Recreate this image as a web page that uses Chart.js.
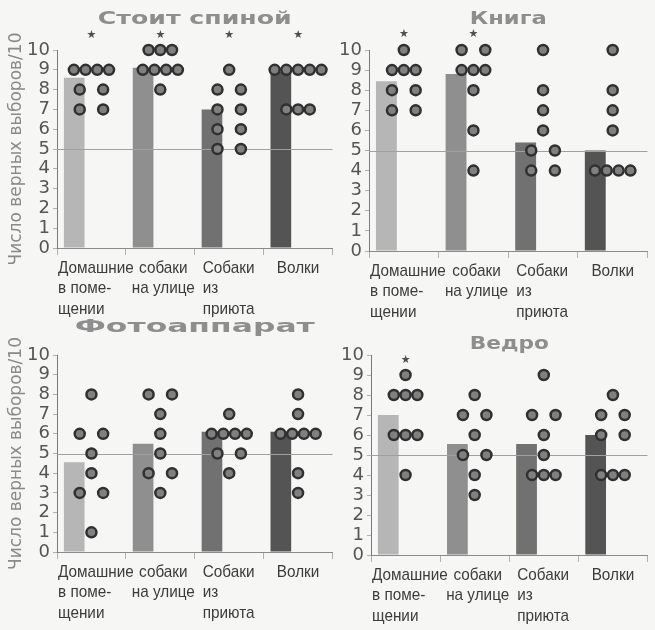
<!DOCTYPE html>
<html>
<head>
<meta charset="utf-8">
<script src="https://cdn.jsdelivr.net/npm/chart.js@4.4.1/dist/chart.umd.min.js"></script>
<style>
  html, body { margin: 0; padding: 0; background: #f6f6f5; }
  #wrap { position: relative; width: 655px; height: 630px; overflow: hidden; }
  #wrap canvas { position: absolute; }
</style>
</head>
<body>
<div id="wrap">
  <canvas id="c1" width="340" height="320" style="left:0;top:0"></canvas>
  <canvas id="c2" width="325" height="320" style="left:330px;top:0"></canvas>
  <canvas id="c3" width="340" height="315" style="left:0;top:315px"></canvas>
  <canvas id="c4" width="325" height="315" style="left:330px;top:315px"></canvas>
</div>
<script>
// Groups compared in every panel
const groupLabels = [
  ['Домашние', 'в поме-', 'щении'],
  ['собаки', 'на улице'],
  ['Собаки', 'из', 'приюта'],
  ['Волки']
];
const yAxisTitle = 'Число верных выборов/10';
const chanceLevel = 5;

// Стоит спиной
const backBars = [8.6, 9.1, 7.0, 8.9];
const backScores = [
  [9, 9, 9, 9, 8, 8, 7, 7],
  [10, 10, 10, 9, 9, 9, 9, 8],
  [9, 8, 8, 7, 7, 6, 6, 5, 5],
  [9, 9, 9, 9, 9, 7, 7, 7]
];
const backSig = [true, true, true, true];

// Книга
const bookBars = [8.45, 8.8, 5.4, 5.0];
const bookScores = [
  [10, 9, 9, 9, 8, 8, 7, 7],
  [10, 10, 9, 9, 9, 8, 6, 4],
  [10, 8, 7, 6, 5, 5, 4, 4],
  [10, 8, 7, 6, 4, 4, 4, 4]
];
const bookSig = [true, true, false, false];

// Фотоаппарат
const cameraBars = [4.55, 5.5, 6.1, 6.1];
const cameraScores = [
  [8, 6, 6, 5, 4, 3, 3, 1],
  [8, 8, 7, 6, 5, 4, 4, 3],
  [7, 6, 6, 6, 6, 5, 5, 4],
  [8, 7, 6, 6, 6, 6, 4, 3]
];
const cameraSig = [false, false, false, false];

// Ведро
const bucketBars = [7.0, 5.55, 5.55, 6.0];
const bucketScores = [
  [9, 8, 8, 8, 6, 6, 6, 4],
  [8, 7, 7, 6, 5, 5, 4, 3],
  [9, 7, 7, 6, 5, 4, 4, 4],
  [8, 7, 7, 6, 6, 4, 4, 4]
];
const bucketSig = [true, false, false, false];

const barColors = ['#b6b6b6', '#8f8f8f', '#717171', '#545454'];

// Spread dogs with equal scores side by side inside their group
function swarm(scores, slot) {
  const pts = [];
  scores.forEach((vals, i) => {
    const rows = {};
    vals.forEach(v => { rows[v] = (rows[v] || 0) + 1; });
    Object.keys(rows).forEach(k => {
      const n = rows[k];
      const offs = n === 2 ? [-1, 1] : Array.from({ length: n }, (_, j) => j - (n - 1) / 2);
      offs.forEach(o => pts.push({ x: i + o * slot, y: +k }));
    });
  });
  return pts;
}

const labelFont = '17px "Liberation Sans", Arial, sans-serif';
const labelSqueeze = 0.9;
const labelAlign = ['left', 'center', 'left', 'center'];
const labelInset = [1, 3, 8, 0];

const decor = {
  id: 'decor',
  afterDatasetDraw(chart, args) {
    if (args.index !== 0) return;
    const { ctx, chartArea: a, scales: { y } } = chart;
    const yy = Math.round(y.getPixelForValue(chanceLevel)) + 0.5;
    ctx.save();
    ctx.strokeStyle = '#a0a0a0';
    ctx.lineWidth = 1;
    ctx.beginPath();
    ctx.moveTo(a.left, yy);
    ctx.lineTo(a.right, yy);
    ctx.stroke();
    ctx.restore();
  },
  afterDraw(chart, args, opts) {
    const { ctx, chartArea: a, scales: { x, y } } = chart;
    // panel heading
    ctx.save();
    ctx.font = 'bold 17px "DejaVu Sans", sans-serif';
    ctx.fillStyle = '#8e8e8e';
    ctx.textAlign = 'center';
    ctx.textBaseline = 'middle';
    const w0 = ctx.measureText(opts.title).width;
    ctx.translate((a.left + a.right) / 2, a.top - opts.titleGap);
    ctx.scale(opts.titleWidth / w0, 1);
    ctx.fillText(opts.title, 0, 0);
    ctx.restore();
    // significance marks
    ctx.save();
    ctx.font = '11px "DejaVu Sans", sans-serif';
    ctx.fillStyle = '#505050';
    ctx.textAlign = 'center';
    ctx.textBaseline = 'middle';
    opts.sig.forEach((s, i) => {
      if (s) ctx.fillText('★', x.getPixelForValue(i), y.getPixelForValue(opts.starLevel));
    });
    ctx.restore();
    // group names under the axis
    const cw = x.getPixelForValue(1) - x.getPixelForValue(0);
    groupLabels.forEach((lines, i) => {
      const c = x.getPixelForValue(i);
      const px = labelAlign[i] === 'left' ? c - cw / 2 + labelInset[i] : c + labelInset[i];
      lines.forEach((t, k) => {
        ctx.save();
        ctx.font = labelFont;
        ctx.fillStyle = '#3c3c3c';
        ctx.textBaseline = 'middle';
        ctx.textAlign = labelAlign[i];
        ctx.translate(px, a.bottom + 20 + k * 20.5);
        ctx.scale(labelSqueeze, 1);
        ctx.fillText(t, 0, 0);
        ctx.restore();
      });
    });
  }
};

function makePanel(id, cfg) {
  return new Chart(document.getElementById(id), {
    data: {
      labels: groupLabels.map(l => l.join(' ')),
      datasets: [
        {
          type: 'bar',
          data: cfg.bars,
          backgroundColor: barColors,
          borderWidth: 0,
          barPercentage: 0.6,
          categoryPercentage: 1.0,
          order: 1
        },
        {
          type: 'scatter',
          xAxisID: 'xd',
          data: swarm(cfg.scores, 0.17),
          pointRadius: 5,
          pointBackgroundColor: '#808080',
          pointBorderColor: '#303030',
          pointBorderWidth: 2.5,
          clip: false,
          order: 0
        }
      ]
    },
    options: {
      responsive: false,
      animation: false,
      layout: { padding: { top: cfg.top, right: cfg.right, left: 0, bottom: 0 } },
      plugins: {
        legend: { display: false },
        tooltip: { enabled: false },
        decor: {
          title: cfg.title, titleWidth: cfg.titleWidth, titleGap: cfg.titleGap,
          sig: cfg.sig, starLevel: cfg.starLevel
        }
      },
      scales: {
        x: {
          type: 'category',
          offset: true,
          grid: { display: true, offset: true, drawOnChartArea: false, drawTicks: true, tickLength: 7, color: '#b0b0b0' },
          border: { display: true, color: '#8a8a8a', width: 1 },
          ticks: { display: false },
          afterFit: s => { s.height = cfg.xHeight; }
        },
        xd: {
          type: 'linear', display: false, min: -0.5, max: 3.5
        },
        y: {
          type: 'linear',
          min: 0, max: 10,
          grid: { display: true, drawOnChartArea: false, drawTicks: true, tickLength: 4, color: '#b0b0b0' },
          border: { display: true, color: '#7a7a7a', width: 1 },
          ticks: {
            stepSize: 1, padding: 3, color: '#555', autoSkip: false,
            font: { family: '"DejaVu Sans", sans-serif', size: 18, lineHeight: 1 }
          },
          title: {
            display: cfg.yTitle,
            text: yAxisTitle,
            color: '#8a8a8a',
            font: { family: '"DejaVu Sans", sans-serif', size: 17, lineHeight: 1.1 },
            padding: { top: 7, bottom: 0 }
          },
          afterFit: s => { s.width = cfg.yWidth; }
        }
      }
    },
    plugins: [decor]
  });
}

makePanel('c1', { title: 'Стоит спиной', titleWidth: 194, titleGap: 30, bars: backBars, scores: backScores, sig: backSig, starLevel: 10.75,
  top: 50, right: 2, xHeight: 72, yWidth: 57, yTitle: true });
makePanel('c2', { title: 'Книга', titleWidth: 77, titleGap: 30, bars: bookBars, scores: bookScores, sig: bookSig, starLevel: 10.8,
  top: 50, right: 0, xHeight: 69, yWidth: 39, yTitle: false });
makePanel('c3', { title: 'Фотоаппарат', titleWidth: 240, titleGap: 27, bars: cameraBars, scores: cameraScores, sig: cameraSig, starLevel: 10.8,
  top: 40, right: 2, xHeight: 78, yWidth: 57, yTitle: true });
makePanel('c4', { title: 'Ведро', titleWidth: 79, titleGap: 10, bars: bucketBars, scores: bucketScores, sig: bucketSig, starLevel: 9.75,
  top: 40, right: 0, xHeight: 75, yWidth: 41, yTitle: false });
</script>
</body>
</html>
